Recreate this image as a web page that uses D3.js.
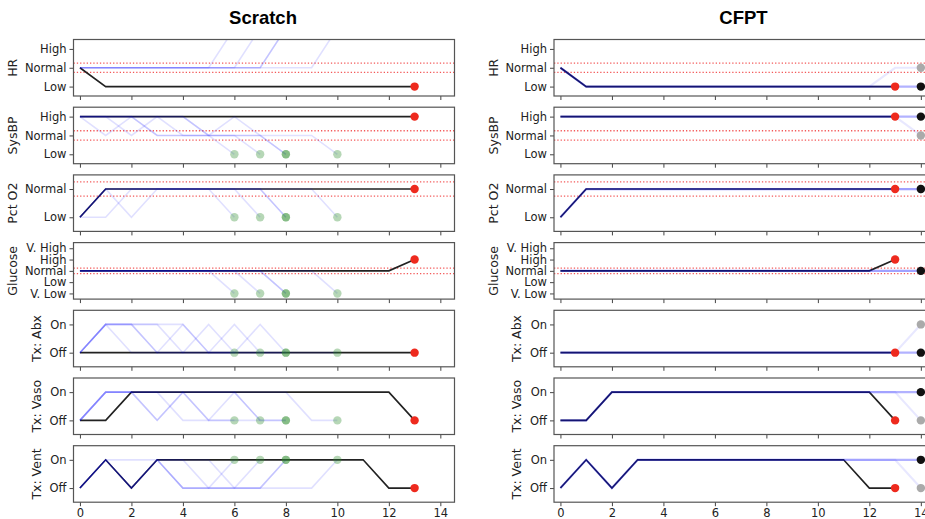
<!DOCTYPE html>
<html>
<head>
<meta charset="utf-8">
<script src="https://cdn.jsdelivr.net/npm/d3@7"></script>
<style>
body { margin: 0; background: #fff; }
svg text { font-family: "DejaVu Sans", sans-serif; }
</style>
</head>
<body>
<svg id="traj" width="925" height="519"></svg>
<script>
// trajectory panels: scratch vs cfpt

var panelNames = ["HR", "SysBP", "Pct O2", "Glucose", "Tx: Abx", "Tx: Vaso", "Tx: Vent"];
var levelLabels = [
    ["Low", "Normal", "High"],
    ["Low", "Normal", "High"],
    ["Low", "Normal"],
    ["V. Low", "Low", "Normal", "High", "V. High"],
    ["Off", "On"],
    ["Off", "On"],
    ["Off", "On"]
];
var normalLevel = [1, 1, 1, 2, null, null, null];
var xTicks = [0, 2, 4, 6, 8, 10, 12, 14];
var titles = ["Scratch", "CFPT"];

// observed trajectory, t = 0..13
var obsHR      = [1, 0, 0, 0, 0, 0, 0, 0, 0, 0, 0, 0, 0, 0];
var obsSysBP   = [2, 2, 2, 2, 2, 2, 2, 2, 2, 2, 2, 2, 2, 2];
var obsO2      = [0, 1, 1, 1, 1, 1, 1, 1, 1, 1, 1, 1, 1, 1];
var obsGlucose = [2, 2, 2, 2, 2, 2, 2, 2, 2, 2, 2, 2, 2, 3];
var obsAbx     = [0, 0, 0, 0, 0, 0, 0, 0, 0, 0, 0, 0, 0, 0];
var obsVaso    = [0, 0, 1, 1, 1, 1, 1, 1, 1, 1, 1, 1, 1, 0];
var obsVent    = [0, 1, 0, 1, 1, 1, 1, 1, 1, 1, 1, 1, 0, 0];

// scratch simulations (5 rollouts, each ends in a terminal state)
var scrHR = [
    [1, 1, 1, 1, 1, 1, 3.1],
    [1, 1, 1, 1, 1, 1, 1, 3.1],
    [1, 1, 1, 1, 1, 1, 1, 1, 3.1],
    [1, 1, 1, 1, 1, 1, 1, 1, 3.1],
    [1, 1, 1, 1, 1, 1, 1, 1, 1, 1, 3.1]
];
var scrSysBP = [
    [2, 1, 2, 1, 1, 1, 0],
    [2, 2, 1, 2, 2, 1, 1, 0],
    [2, 2, 2, 2, 2, 1, 2, 1, 0],
    [2, 2, 2, 1, 1, 1, 1, 1, 0],
    [2, 2, 2, 2, 1, 1, 1, 1, 1, 1, 0]
];
var scrO2 = [
    [0, 1, 1, 1, 1, 1, 0],
    [0, 0, 1, 1, 1, 1, 1, 0],
    [0, 1, 0, 1, 1, 1, 1, 1, 0],
    [0, 1, 1, 1, 1, 1, 1, 1, 0],
    [0, 1, 1, 1, 1, 1, 1, 1, 1, 1, 0]
];
var scrGlucose = [
    [2, 2, 2, 2, 2, 2, 0],
    [2, 2, 2, 2, 2, 2, 2, 0],
    [2, 2, 2, 2, 2, 2, 2, 2, 0],
    [2, 2, 2, 2, 2, 2, 2, 2, 0],
    [2, 2, 2, 2, 2, 2, 2, 2, 2, 2, 0]
];
var scrAbx = [
    [0, 1, 1, 0, 0, 0, 0],
    [0, 1, 1, 1, 1, 0, 1, 0],
    [0, 1, 1, 0, 1, 0, 0, 1, 0],
    [0, 1, 0, 0, 0, 1, 0, 0, 0],
    [0, 1, 1, 1, 0, 0, 0, 0, 0, 0, 0]
];
var scrVaso = [
    [0, 1, 1, 0, 1, 0, 0],
    [0, 1, 1, 1, 1, 1, 1, 0],
    [0, 1, 1, 0, 1, 0, 1, 0, 0],
    [0, 1, 1, 1, 0, 0, 0, 0, 0],
    [0, 1, 1, 1, 1, 1, 1, 1, 1, 0, 0]
];
var scrVent = [
    [0, 1, 0, 1, 0, 0, 1],
    [0, 1, 0, 1, 1, 0, 0, 1],
    [0, 1, 1, 1, 0, 0, 0, 0, 1],
    [0, 1, 0, 1, 1, 1, 0, 0, 1],
    [0, 1, 0, 1, 0, 0, 0, 0, 0, 0, 1]
];

// cfpt counterfactuals, t = 0..14 (first is the common one)
var cfHR      = [[1, 0, 0, 0, 0, 0, 0, 0, 0, 0, 0, 0, 0, 0, 0], [1, 0, 0, 0, 0, 0, 0, 0, 0, 0, 0, 0, 0, 1, 1]];
var cfSysBP   = [[2, 2, 2, 2, 2, 2, 2, 2, 2, 2, 2, 2, 2, 2, 2], [2, 2, 2, 2, 2, 2, 2, 2, 2, 2, 2, 2, 2, 2, 1]];
var cfO2      = [[0, 1, 1, 1, 1, 1, 1, 1, 1, 1, 1, 1, 1, 1, 1], [0, 1, 1, 1, 1, 1, 1, 1, 1, 1, 1, 1, 1, 1, 1]];
var cfGlucose = [[2, 2, 2, 2, 2, 2, 2, 2, 2, 2, 2, 2, 2, 2, 2], [2, 2, 2, 2, 2, 2, 2, 2, 2, 2, 2, 2, 2, 2, 2]];
var cfAbx     = [[0, 0, 0, 0, 0, 0, 0, 0, 0, 0, 0, 0, 0, 0, 0], [0, 0, 0, 0, 0, 0, 0, 0, 0, 0, 0, 0, 0, 0, 1]];
var cfVaso    = [[0, 0, 1, 1, 1, 1, 1, 1, 1, 1, 1, 1, 1, 1, 1], [0, 0, 1, 1, 1, 1, 1, 1, 1, 1, 1, 1, 1, 1, 0]];
var cfVent    = [[0, 1, 0, 1, 1, 1, 1, 1, 1, 1, 1, 1, 1, 1, 1], [0, 1, 0, 1, 1, 1, 1, 1, 1, 1, 1, 1, 1, 1, 0]];
var cfWeight  = [0.3, 0.09];
var cfDotColor = ["#111", "#aaa"];

var observed = [obsHR, obsSysBP, obsO2, obsGlucose, obsAbx, obsVaso, obsVent];
var scratchSims = [scrHR, scrSysBP, scrO2, scrGlucose, scrAbx, scrVaso, scrVent];
var cfptSims = [cfHR, cfSysBP, cfO2, cfGlucose, cfAbx, cfVaso, cfVent];

var svg = d3.select("#traj");

var panelLeft = [73.5, 554];
var panelWidth = 381;
var panelTop = 39.5;
var panelHeight = 56.5;
var panelStep = 67.7;

var x = d3.scaleLinear().domain([-0.25, 14.55]).range([0, panelWidth]);

function drawSide(side) {
    var sims = side == 0 ? scratchSims : cfptSims;
    var left = panelLeft[side];

    svg.append("text")
        .attr("x", left + panelWidth / 2 - 1)
        .attr("y", 24)
        .attr("text-anchor", "middle")
        .style("font-family", "'Liberation Sans', Arial, sans-serif")
        .style("font-weight", "bold")
        .style("font-size", "18.5px")
        .text(titles[side]);

    panelNames.forEach(function(name, p) {
        var labels = levelLabels[p];
        var top = panelTop + p * panelStep;
        var y = d3.scaleLinear().domain([-0.5, labels.length - 0.5]).range([panelHeight, 0]);

        var g = svg.append("g")
            .attr("transform", "translate(" + left + "," + top + ")");

        var clipId = "clip" + side + "_" + p;
        g.append("clipPath").attr("id", clipId)
            .append("rect").attr("width", panelWidth).attr("height", panelHeight);

        var body = g.append("g").attr("clip-path", "url(#" + clipId + ")");

        var line = d3.line()
            .x(function(d, i) { return x(i); })
            .y(function(d) { return y(d); });

        // normal range bounds
        if (normalLevel[p] != null) {
            [normalLevel[p] - 0.25, normalLevel[p] + 0.25].forEach(function(v) {
                body.append("line")
                    .attr("x1", 0).attr("x2", panelWidth)
                    .attr("y1", y(v)).attr("y2", y(v))
                    .attr("stroke", "#f03030")
                    .attr("stroke-opacity", 0.8)
                    .attr("stroke-width", 1.3)
                    .attr("stroke-dasharray", "1.3,2");
            });
        }

        // observed
        body.append("path")
            .datum(observed[p])
            .attr("fill", "none")
            .attr("stroke", "#222")
            .attr("stroke-width", 1.6)
            .attr("d", line);

        // simulated rollouts
        sims[p].forEach(function(s, k) {
            body.append("path")
                .datum(s)
                .attr("fill", "none")
                .attr("stroke", "#0000ff")
                .attr("stroke-opacity", side == 0 ? 0.12 : cfWeight[k])
                .attr("stroke-width", side == 0 ? 1.6 : 2.2)
                .attr("d", line);
        });

        // end points (rare outcomes first so the common one sits on top)
        sims[p].slice().reverse().forEach(function(s, j) {
            var k = sims[p].length - 1 - j;
            var n = s.length - 1;
            body.append("circle")
                .attr("cx", x(n)).attr("cy", y(s[n]))
                .attr("r", 4.2)
                .attr("fill", side == 0 ? "#2e8b2e" : cfDotColor[k])
                .attr("fill-opacity", side == 0 ? 0.35 : 1);
        });

        var last = observed[p].length - 1;
        body.append("circle")
            .attr("cx", x(last)).attr("cy", y(observed[p][last]))
            .attr("r", 4.2)
            .attr("fill", "#ee2a1e");

        // axes
        var yAxis = d3.axisLeft(y)
            .tickValues(d3.range(labels.length))
            .tickFormat(function(d) { return labels[d]; })
            .tickSize(4).tickPadding(3);
        var yg = g.append("g").attr("class", "axis").call(yAxis);

        var xAxis = d3.axisBottom(x).tickValues(xTicks).tickSize(4).tickPadding(3);
        var xg = g.append("g").attr("class", "axis")
            .attr("transform", "translate(0," + panelHeight + ")")
            .call(xAxis);
        if (p < panelNames.length - 1) xg.selectAll("text").remove();

        g.selectAll(".axis .domain").remove();
        g.selectAll(".axis text").style("font-size", "11.5px").attr("fill", "#222");
        g.selectAll(".axis line").attr("stroke", "#444");

        g.append("rect")
            .attr("width", panelWidth).attr("height", panelHeight)
            .attr("fill", "none")
            .attr("stroke", "#555")
            .attr("stroke-width", 1.2);

        // ylabel sits just left of the widest tick label, like matplotlib
        var widest = d3.max(yg.selectAll("text").nodes(), function(n) { return n.getBBox().width; });
        var labelX = left - 7 - widest - 12;

        svg.append("text")
            .attr("transform", "translate(" + labelX + "," + (top + panelHeight / 2) + ") rotate(-90)")
            .attr("text-anchor", "middle")
            .attr("dy", "0.35em")
            .style("font-size", "12.5px")
            .attr("fill", "#222")
            .text(name);
    });
}

drawSide(0);
drawSide(1);
</script>
</body>
</html>
